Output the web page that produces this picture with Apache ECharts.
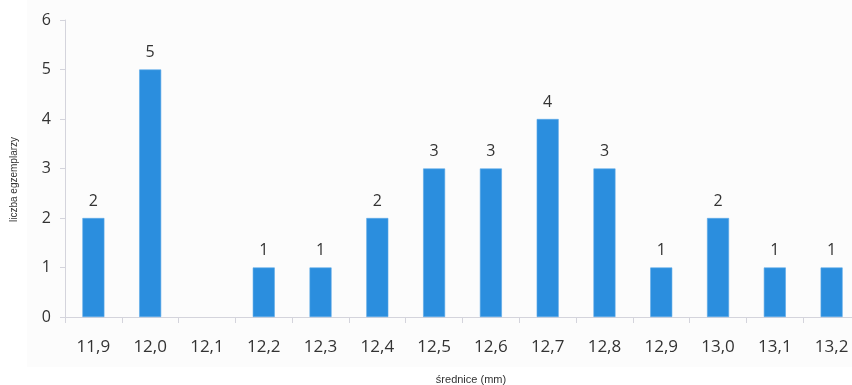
<!DOCTYPE html>
<html>
<head>
<meta charset="utf-8">
<script src="https://cdn.jsdelivr.net/npm/echarts@6/dist/echarts.min.js"></script>
<style>
html,body{margin:0;padding:0;background:#fff;overflow:hidden;width:852px;height:385px;}
#c{width:870px;height:385px;}
</style>
</head>
<body>
<div id="c"></div>
<script>
const categories = ['11,9','12,0','12,1','12,2','12,3','12,4','12,5','12,6','12,7','12,8','12,9','13,0','13,1','13,2'];
const counts = [2,5,null,1,1,2,3,3,4,3,1,2,1,1];
const yTicks = [0,1,2,3,4,5,6];
const yName = 'liczba egzemplarzy';
const xName = 'średnice (mm)';

const chart = echarts.init(document.getElementById('c'), null, {renderer:'canvas'});
const font = '"Open Sans", "Noto Sans", sans-serif';
chart.setOption({
  backgroundColor: '#ffffff',
  animation: false,
  textStyle: {fontFamily: font},
  graphic: [
    {type:'rect', z:-10, shape:{x:27,y:0,width:843,height:367}, style:{fill:'#fcfcfc'}},
    {type:'text', rotation: Math.PI/2, x:9, y:222, style:{text:yName, fill:'#333', font:'10px "Liberation Sans", Arial, sans-serif'}},
    {type:'text', x:471, y:380, style:{text:xName, fill:'#333', font:'11px "Liberation Sans", Arial, sans-serif', textAlign:'center', textVerticalAlign:'middle'}}
  ],
  grid: {left:65, top:20, width:795, height:297, containLabel:false},
  xAxis: {
    type:'category',
    data: categories,
    boundaryGap: true,
    axisLine: {lineStyle:{color:'#d4d4dc', width:1}},
    axisTick: {show:true, alignWithLabel:false, length:6, lineStyle:{color:'#d4d4dc'}},
    axisLabel: {color:'#333', fontSize:17, margin:22, fontFamily: font}
  },
  yAxis: {
    type:'value',
    min: yTicks[0], max: yTicks[yTicks.length-1], interval: 1,
    axisLine: {show:true, lineStyle:{color:'#d4d4dc', width:1}},
    axisTick: {show:true, length:5, lineStyle:{color:'#d4d4dc'}},
    splitLine: {show:false},
    axisLabel: {color:'#333', fontSize:16, margin:14, fontFamily: font}
  },
  series: [{
    type:'bar',
    data: counts,
    barWidth: 22,
    itemStyle: {color:'#2b8ede', borderColor:'#5aa8e8', borderWidth:0.6},
    label: {show:true, position:'top', distance:9, color:'#333', fontSize:16, fontFamily: font}
  }]
});
</script>
</body>
</html>
